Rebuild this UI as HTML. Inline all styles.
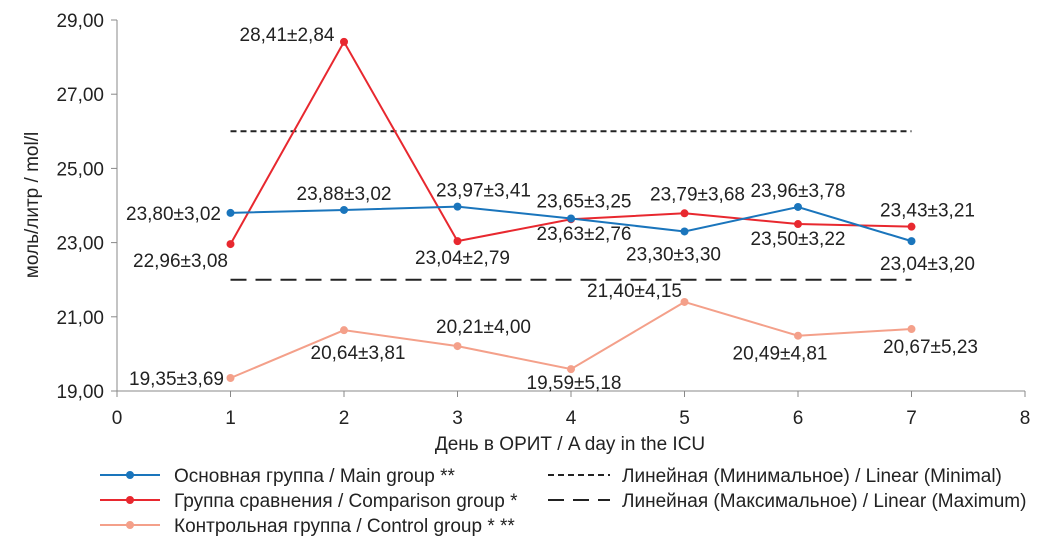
<!DOCTYPE html>
<html><head><meta charset="utf-8"><style>
body{margin:0;background:#fff}
svg{font-family:"Liberation Sans",sans-serif;display:block}
</style></head><body>
<svg id="c" width="1052" height="544"></svg>
<script>
const days=[1,2,3,4,5,6,7];
const mainVals=[23.80,23.88,23.97,23.65,23.30,23.96,23.04];
const compVals=[22.96,28.41,23.04,23.63,23.79,23.50,23.43];
const ctrlVals=[19.35,20.64,20.21,19.59,21.40,20.49,20.67];
const mainLbl=["23,80±3,02","23,88±3,02","23,97±3,41","23,65±3,25","23,30±3,30","23,96±3,78","23,04±3,20"];
const compLbl=["22,96±3,08","28,41±2,84","23,04±2,79","23,63±2,76","23,79±3,68","23,50±3,22","23,43±3,21"];
const ctrlLbl=["19,35±3,69","20,64±3,81","20,21±4,00","19,59±5,18","21,40±4,15","20,49±4,81","20,67±5,23"];
const minLine=26, maxLine=22;
const yTicks=[19,21,23,25,27,29];
const xTicks=[0,1,2,3,4,5,6,7,8];
const NS="http://www.w3.org/2000/svg",svg=document.getElementById('c');
const FS=19;
const X=v=>117+v*113.5, Y=v=>391-(v-19)*37.1;
function el(t,a,p){const e=document.createElementNS(NS,t);for(const k in a)e.setAttribute(k,a[k]);(p||svg).appendChild(e);return e;}
const fmt=v=>v.toFixed(2).replace('.',',');
let ax=el('line',{x1:117,y1:20,x2:117,y2:391,stroke:'#888'});

ax=el('line',{x1:117,y1:391,x2:1025,y2:391,stroke:'#888'});

yTicks.forEach(v=>{el('line',{x1:111,x2:117,y1:Y(v),y2:Y(v),stroke:'#888'});
 const t=el('text',{x:104,y:Y(v)+7,'text-anchor':'end','font-size':FS,fill:'#222'});t.textContent=fmt(v);
 });
xTicks.forEach(v=>{el('line',{x1:X(v),x2:X(v),y1:391,y2:397,stroke:'#888'});
 const t=el('text',{x:X(v),y:424,'text-anchor':'middle','font-size':FS,fill:'#222'});t.textContent=v;
 });
let t=el('text',{x:570,y:450,'text-anchor':'middle','font-size':FS,fill:'#222'});t.textContent='День в ОРИТ / A day in the ICU';

t=el('text',{transform:'translate(38,205) rotate(-90)','text-anchor':'middle','font-size':FS,fill:'#222'});t.textContent='моль/литр / mol/l';

let l=el('line',{x1:X(1),x2:X(7),y1:Y(minLine),y2:Y(minLine),stroke:'#222','stroke-width':2,'stroke-dasharray':'6,4'});

l=el('line',{x1:X(1),x2:X(7),y1:Y(maxLine),y2:Y(maxLine),stroke:'#222','stroke-width':2,'stroke-dasharray':'16,9'});

function series(vals,lbls,col,name,off){
 const p=el('polyline',{points:vals.map((v,i)=>X(days[i])+','+Y(v)).join(' '),fill:'none',stroke:col,'stroke-width':2});
 
 vals.forEach((v,i)=>{const c=el('circle',{cx:X(days[i]),cy:Y(v),r:4,fill:col});
  
  const tx=el('text',{x:X(days[i])+off[i][0],y:Y(v)+off[i][1],'text-anchor':'middle','font-size':FS,fill:'#222'});tx.textContent=lbls[i];
  });
}
series(ctrlVals,ctrlLbl,'#f4a08a','control',[[-54,7],[14,29],[26,-13],[3,20],[-50,-5],[-18,24],[19,24]]);
series(compVals,compLbl,'#e8282f','comparison',[[-50,23],[-57,-1],[5,23],[13,21],[13,-13],[0,21],[16,-10]]);
series(mainVals,mainLbl,'#1a75bc','main',[[-57,7],[0,-10],[26,-10],[13,-11],[-11,29],[0,-10],[16,29]]);
const leg=[['#1a75bc','Основная группа / Main group **',475],['#e8282f','Группа сравнения / Comparison group *',500],['#f4a08a','Контрольная группа / Control group * **',525]];
leg.forEach(([c,s,y])=>{const g=el('g',{});
 el('line',{x1:100,x2:160,y1:y,y2:y,stroke:c,'stroke-width':2},g);el('circle',{cx:130,cy:y,r:4,fill:c},g);
 const tt=el('text',{x:174,y:y+7,'font-size':FS,fill:'#222'},g);tt.textContent=s;});
[['6,4','Линейная (Минимальное) / Linear (Minimal)',475],['16,9','Линейная (Максимальное) / Linear (Maximum)',500]].forEach(([d,s,y])=>{
 const g=el('g',{});
 el('line',{x1:548,x2:610,y1:y,y2:y,stroke:'#222','stroke-width':2,'stroke-dasharray':d},g);
 const tt=el('text',{x:622,y:y+7,'font-size':FS,fill:'#222'},g);tt.textContent=s;});
</script>
</body></html>
